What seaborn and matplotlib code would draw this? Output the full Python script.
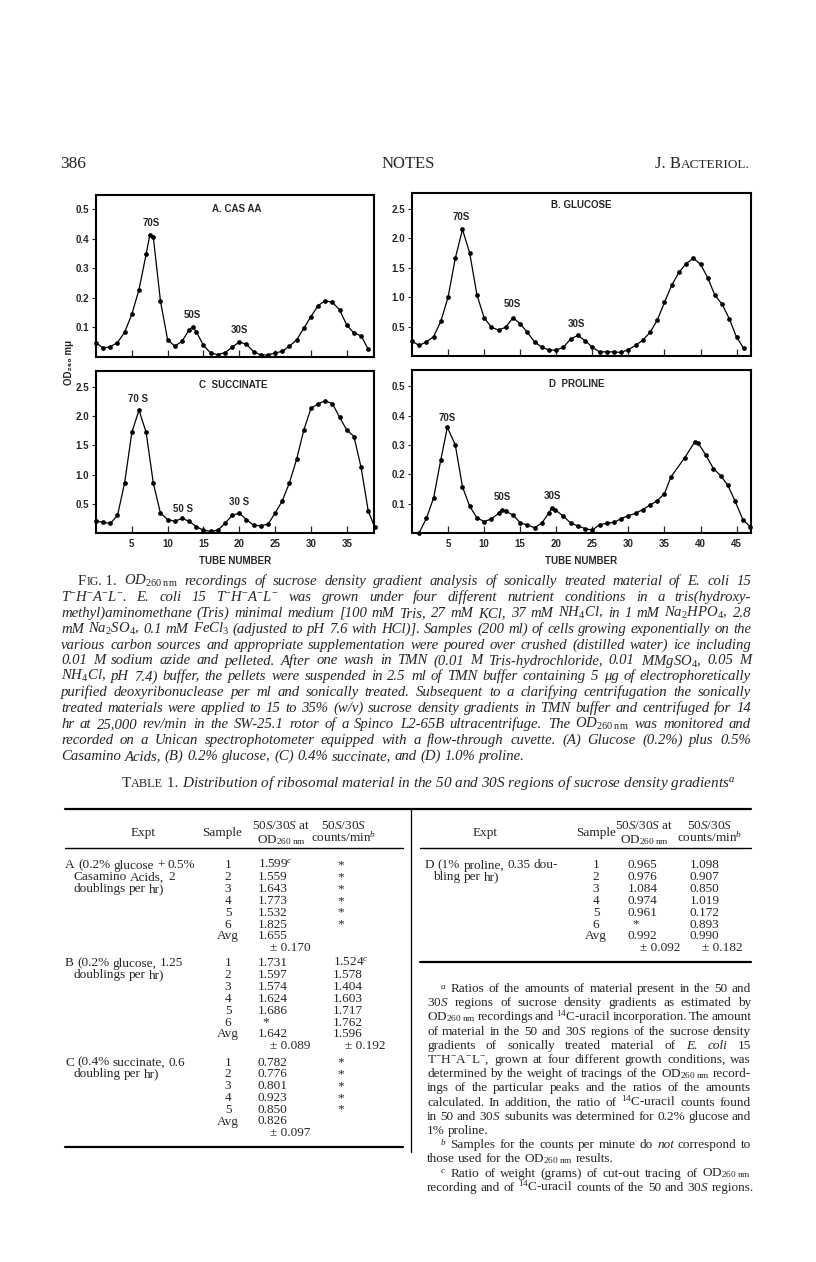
import numpy as np
import pandas as pd
import seaborn as sns
import matplotlib.pyplot as plt
from matplotlib.lines import Line2D

sns.set_style("white")
plt.rcParams['font.family'] = ['Liberation Serif', 'DejaVu Serif']
plt.rcParams['mathtext.fontset'] = 'custom'
plt.rcParams['mathtext.rm'] = 'Liberation Serif'
plt.rcParams['mathtext.it'] = 'Liberation Serif:italic'
plt.rcParams['mathtext.bf'] = 'Liberation Serif:bold'

# ---- gradient profiles (tube number, OD260) ----
tube_a = [0, 1, 2, 3, 4, 5, 6, 7, 7.5, 8, 9, 10, 11, 12, 13, 13.5, 14, 15, 16, 17, 18, 19, 20,
          21, 22, 23, 24, 25, 26, 27, 28, 29, 30, 31, 32, 33, 34, 35, 36, 37, 38]
od_a = [0.049, 0.030, 0.035, 0.049, 0.084, 0.145, 0.228, 0.349, 0.412, 0.405, 0.189, 0.058,
        0.037, 0.053, 0.092, 0.102, 0.086, 0.039, 0.014, 0.008, 0.015, 0.033, 0.051, 0.043,
        0.018, 0.007, 0.007, 0.014, 0.019, 0.037, 0.058, 0.097, 0.137, 0.174, 0.191, 0.185,
        0.160, 0.108, 0.081, 0.072, 0.026]

tube_b = list(range(0, 47))
od_b = [0.25, 0.18, 0.24, 0.33, 0.59, 1.00, 1.66, 2.15, 1.75, 1.04, 0.65, 0.49, 0.44, 0.49,
        0.65, 0.55, 0.40, 0.24, 0.15, 0.10, 0.10, 0.15, 0.29, 0.35, 0.26, 0.15, 0.07, 0.07,
        0.07, 0.06, 0.11, 0.18, 0.27, 0.40, 0.61, 0.91, 1.20, 1.42, 1.57, 1.66, 1.56, 1.33,
        1.03, 0.88, 0.63, 0.32, 0.13]

tube_c = list(range(0, 39)) + [38.9]
od_c = [0.21, 0.18, 0.165, 0.30, 0.86, 1.72, 2.10, 1.72, 0.85, 0.34, 0.23, 0.20, 0.25, 0.20,
        0.11, 0.045, 0.03, 0.045, 0.165, 0.30, 0.34, 0.23, 0.13, 0.125, 0.15, 0.34, 0.55,
        0.86, 1.26, 1.76, 2.13, 2.21, 2.26, 2.21, 1.98, 1.76, 1.65, 1.12, 0.375, 0.10]

tube_d = [1, 2, 3, 4, 4.9, 6, 7, 8, 9, 10, 11, 12, 12.5, 13, 14, 15, 16, 17, 18, 19, 19.4, 19.8,
          21, 22, 23, 24, 25, 26, 27, 28, 29, 30, 31, 32, 33, 34, 35, 35.9, 37.8, 39.2, 39.7,
          40.7, 41.8, 42.8, 43.8, 44.8, 45.9, 46.9]
od_d = [0.001, 0.05, 0.12, 0.25, 0.36, 0.30, 0.157, 0.091, 0.052, 0.039, 0.048, 0.067, 0.08,
        0.074, 0.061, 0.035, 0.027, 0.018, 0.034, 0.069, 0.086, 0.080, 0.057, 0.034, 0.024,
        0.015, 0.010, 0.028, 0.033, 0.036, 0.049, 0.059, 0.067, 0.080, 0.095, 0.110, 0.134,
        0.191, 0.256, 0.31, 0.305, 0.267, 0.219, 0.195, 0.162, 0.108, 0.044, 0.022]

# ---- table 1 ----
samples_a = ["1", "2", "3", "4", "5", "6", "Avg"]
od_ratio_a = ["1.599$^{c}$", "1.559", "1.643", "1.773", "1.532", "1.825", "1.655"]
cpm_ratio_a = ["*", "*", "*", "*", "*", "*", ""]
sd_a = ["± 0.170", ""]
samples_b = ["1", "2", "3", "4", "5", "6", "Avg"]
od_ratio_b = ["1.731", "1.597", "1.574", "1.624", "1.686", "*", "1.642"]
cpm_ratio_b = ["1.524$^{c}$", "1.578", "1.404", "1.603", "1.717", "1.762", "1.596"]
sd_b = ["± 0.089", "± 0.192"]
samples_c = ["1", "2", "3", "4", "5", "Avg"]
od_ratio_c = ["0.782", "0.776", "0.801", "0.923", "0.850", "0.826"]
cpm_ratio_c = ["*", "*", "*", "*", "*", ""]
sd_c = ["± 0.097", ""]
samples_d = ["1", "2", "3", "4", "5", "6", "Avg"]
od_ratio_d = ["0.965", "0.976", "1.084", "0.974", "0.961", "*", "0.992"]
cpm_ratio_d = ["1.098", "0.907", "0.850", "1.019", "0.172", "0.893", "0.990"]
sd_d = ["± 0.092", "± 0.182"]

W, H = 816, 1262
fig = plt.figure(figsize=(W / 100, H / 100), dpi=100)
renderer = fig.canvas.get_renderer()


def fx(x):
    return x / W


def fy(y):
    return 1 - y / H


def put(x, y, s, **kw):
    return fig.text(fx(x), fy(y), s, **kw)


def width(t):
    return t.get_window_extent(renderer).width


def rule(x0, x1, y, lw=1.2):
    fig.add_artist(Line2D([fx(x0), fx(x1)], [fy(y), fy(y)], transform=fig.transFigure,
                          color='k', lw=lw))


def runs(x, y, parts, align='left', **kw):
    items = []
    for p in parts:
        if isinstance(p, (int, float)):
            items.append((None, p))
        else:
            s, sz, st = p
            t = put(0, y, s, fontsize=sz, style=st, va='baseline', **kw)
            items.append((t, width(t)))
    total = sum(w for _, w in items)
    if align == 'right':
        x -= total
    elif align == 'center':
        x -= total / 2
    for t, w in items:
        if t is not None:
            t.set_x(fx(x))
        x += w
    return x


def text_line(x0, x1, y, text, size, style='italic', justify=True):
    words = text.split(' ')
    ts = []
    for w in words:
        st = style
        if w.startswith('~'):
            w = w[1:]
            st = 'italic' if style == 'normal' else 'normal'
        ts.append(put(0, y, w, fontsize=size, style=st, va='baseline'))
    ws = [width(t) for t in ts]
    gap = size * 100 / 72 * 0.25
    if justify and len(ts) > 1:
        gap = (x1 - x0 - sum(ws)) / (len(ts) - 1)
    x = x0
    for t, w in zip(ts, ws):
        t.set_x(fx(x))
        x += w + gap


SANS = ['Liberation Sans', 'DejaVu Sans']
PS = 7


def panel(box, xs, ys, xlim, ylim, yticks, ylabels, xticks, show_x, title, title_xy, peaks):
    l, t, r, b = box
    ax = fig.add_axes([fx(l), fy(b), (r - l) / W, (b - t) / H])
    df = pd.DataFrame({"tube": xs, "od": ys})
    sns.lineplot(data=df, x="tube", y="od", ax=ax, color='k', lw=0.9, marker='o',
                 markersize=3.4, markeredgewidth=0, sort=True, clip_on=False)
    ax.set_xlim(*xlim)
    ax.set_ylim(*ylim)
    ax.set_xlabel("")
    ax.set_ylabel("")
    ax.set_xticks(xticks)
    ax.set_yticks(yticks, ylabels, fontsize=PS, fontweight='bold', family=SANS)
    if show_x:
        ax.set_xticklabels([str(v) for v in xticks], fontsize=PS, fontweight='bold', family=SANS)
        ax.set_xlabel("TUBE NUMBER", fontsize=PS, fontweight='bold', family=SANS, labelpad=5)
    else:
        ax.set_xticklabels([])
    ax.tick_params(axis='x', direction='in', length=5, width=0.9, pad=4, bottom=True)
    ax.tick_params(axis='y', direction='out', length=3, width=0.8, pad=2, left=True)
    for sp in ax.spines.values():
        sp.set_linewidth(1.5)
        sp.set_color('k')
    ax.text(title_xy[0], title_xy[1], title, fontsize=PS, fontweight='bold', family=SANS,
            ha='center', va='center')
    for s, px, py in peaks:
        ax.text(px, py, s, fontsize=PS, fontweight='bold', family=SANS, ha='center', va='center')
    return ax


panel((96, 195, 374, 357), tube_a, od_a, (0, 38.8), (0, 0.549), [0.1, 0.2, 0.3, 0.4, 0.5],
      ["0.1", "0.2", "0.3", "0.4", "0.5"], [5, 10, 15, 20, 25, 30, 35], False,
      "A. CAS AA", (19.6, 0.503), [("70S", 7.7, 0.455), ("50S", 13.4, 0.142), ("30S", 20.0, 0.092)])
panel((412, 193, 751, 356), tube_b, od_b, (0, 47), (0, 2.77), [0.5, 1.0, 1.5, 2.0, 2.5],
      ["0.5", "1.0", "1.5", "2.0", "2.5"], [5, 10, 15, 20, 25, 30, 35, 40, 45], False,
      "B. GLUCOSE", (23.4, 2.56), [("70S", 6.8, 2.36), ("50S", 13.9, 0.88), ("30S", 22.8, 0.55)])
panel((96, 371, 374, 533), tube_c, od_c, (0, 38.8), (0, 2.77), [0.5, 1.0, 1.5, 2.0, 2.5],
      ["0.5", "1.0", "1.5", "2.0", "2.5"], [5, 10, 15, 20, 25, 30, 35], True,
      "C  SUCCINATE", (19.2, 2.53), [("70 S", 5.9, 2.29), ("50 S", 12.2, 0.41), ("30 S", 19.9, 0.53)])
panel((412, 370, 751, 533), tube_d, od_d, (0, 47), (0, 0.555), [0.1, 0.2, 0.3, 0.4, 0.5],
      ["0.1", "0.2", "0.3", "0.4", "0.5"], [5, 10, 15, 20, 25, 30, 35, 40, 45], True,
      "D  PROLINE", (22.9, 0.509), [("70S", 4.9, 0.393), ("50S", 12.5, 0.123), ("30S", 19.4, 0.125)])

put(69, 362, "OD₂₆₀ mμ", fontsize=PS, fontweight='bold', family=SANS, rotation=90,
    ha='center', va='center')

# ---- running head ----
put(60, 168, "386", fontsize=12.5, va='baseline')
put(408, 168, "NOTES", fontsize=12, va='baseline', ha='center')
runs(750, 168, [("J. B", 12, 'normal'), ("ACTERIOL.", 9.5, 'normal')], align='right')

# ---- figure legend ----
cap = [
    "OD$_{260\\;\\mathrm{nm}}$ recordings of sucrose density gradient analysis of sonically treated material of E. coli 15",
    "T$^{-}$H$^{-}$A$^{-}$L$^{-}$. E. coli 15 T$^{-}$H$^{-}$A$^{-}$L$^{-}$ was grown under four different nutrient conditions in a tris(hydroxy-",
    "methyl)aminomethane (Tris) minimal medium [100 mM Tris, 27 mM KCl, 37 mM NH$_{4}$Cl, in 1 mM Na$_{2}$HPO$_{4}$, 2.8",
    "mM Na$_{2}$SO$_{4}$, 0.1 mM FeCl$_{3}$ (adjusted to pH 7.6 with HCl)]. Samples (200 ml) of cells growing exponentially on the",
    "various carbon sources and appropriate supplementation were poured over crushed (distilled water) ice including",
    "0.01 M sodium azide and pelleted. After one wash in TMN (0.01 M Tris-hydrochloride, 0.01 MMgSO$_{4}$, 0.05 M",
    "NH$_{4}$Cl, pH 7.4) buffer, the pellets were suspended in 2.5 ml of TMN buffer containing 5 μg of electrophoretically",
    "purified deoxyribonuclease per ml and sonically treated. Subsequent to a clarifying centrifugation the sonically",
    "treated materials were applied to 15 to 35% (w/v) sucrose density gradients in TMN buffer and centrifuged for 14",
    "hr at 25,000 rev/min in the SW-25.1 rotor of a Spinco L2-65B ultracentrifuge. The OD$_{260\\;\\mathrm{nm}}$ was monitored and",
    "recorded on a Unican spectrophotometer equipped with a flow-through cuvette. (A) Glucose (0.2%) plus 0.5%",
    "Casamino Acids, (B) 0.2% glucose, (C) 0.4% succinate, and (D) 1.0% proline.",
]
cap_y0, cap_dy, cap_size = 585, 15.9, 10.6
x_after = runs(78, cap_y0, [("F", cap_size, 'normal'), ("IG", 8.5, 'normal'), (". 1. ", cap_size, 'normal')])
text_line(x_after + 3, 751, cap_y0, cap[0], cap_size)
for i, ln in enumerate(cap[1:], start=1):
    text_line(61, 751, cap_y0 + i * cap_dy, ln, cap_size, justify=(i < len(cap) - 1))

# ---- table title ----
runs(122, 787, [("T", 11, 'normal'), ("ABLE", 8.8, 'normal'), (" 1. ", 11, 'normal'),
                ("Distribution of ribosomal material in the 50 and 30$S$ regions of sucrose density gradients$^{a}$",
                 11, 'italic')])

# ---- table frame ----
rule(65, 751, 809, 1.6)
rule(65, 403, 848, 1.0)
rule(420, 751, 848, 1.0)
fig.add_artist(Line2D([fx(411), fx(411)], [fy(809), fy(1152)], transform=fig.transFigure,
                      color='k', lw=0.9))
rule(420, 751, 962, 1.6)
rule(65, 403, 1147, 1.6)

TS = 9.5
hdr = dict(fontsize=TS, ha='center', va='baseline')
for ex, sx, ox, cx in [(143, 222, 281, 344), (485, 596, 644, 710)]:
    put(ex, 836, "Expt", **hdr)
    put(sx, 836, "Sample", **hdr)
    put(ox, 829, "50$S$/30$S$ at", **hdr)
    put(ox, 843, "OD$_{260\\;\\mathrm{nm}}$", **hdr)
    put(cx, 829, "50$S$/30$S$", **hdr)
    put(cx, 842, "counts/min$^{b}$", **hdr)

ROW = 11.8


def block(y0, expt_lines, samples, od, cpm, sd, cols):
    sx, ox, cx = cols
    for k, (txt, x0, x1) in enumerate(expt_lines):
        text_line(x0, x1, y0 + k * ROW + 3.5, txt, TS, style='normal', justify=x1 is not None)
    for k in range(len(samples)):
        y = y0 + k * ROW + 3.5
        put(sx, y, samples[k], fontsize=TS, ha='center', va='baseline')
        if od[k] == "*":
            put(ox + 4, y, "*", fontsize=TS, ha='left', va='baseline')
        else:
            put(ox, y, od[k], fontsize=TS, ha='left', va='baseline')
        if cpm[k] == "*":
            put(cx + 4, y, "*", fontsize=TS, ha='left', va='baseline')
        elif cpm[k]:
            put(cx, y, cpm[k], fontsize=TS, ha='left', va='baseline')
    y = y0 + len(samples) * ROW + 3.5
    if sd[0]:
        put(ox + 12, y, sd[0], fontsize=TS, ha='left', va='baseline')
    if sd[1]:
        put(cx + 12, y, sd[1], fontsize=TS, ha='left', va='baseline')


left_cols = (228, 258, 333)
block(865, [("A (0.2% glucose + 0.5%", 65, None), ("Casamino Acids, 2", 73, 175),
            ("doublings per hr)", 73, None)], samples_a, od_ratio_a, cpm_ratio_a, sd_a, left_cols)
block(963, [("B (0.2% glucose, 1.25", 65, None), ("doublings per hr)", 73, None)],
      samples_b, od_ratio_b, cpm_ratio_b, sd_b, left_cols)
block(1062, [("C (0.4% succinate, 0.6", 65, None), ("doubling per hr)", 73, None)],
      samples_c, od_ratio_c, cpm_ratio_c, sd_c, left_cols)
block(865, [("D (1% proline, 0.35 dou-", 425, None), ("bling per hr)", 433, None)],
      samples_d, od_ratio_d, cpm_ratio_d, sd_d, (596, 628, 690))

# ---- table footnotes ----
notes = [
    ("$^{a}$ Ratios of the amounts of material present in the 50 and", 440, True),
    ("30$S$ regions of sucrose density gradients as estimated by", 427, True),
    ("OD$_{260\\;\\mathrm{nm}}$ recordings and $^{14}$C-uracil incorporation. The amount", 427, True),
    ("of material in the 50 and 30$S$ regions of the sucrose density", 427, True),
    ("gradients of sonically treated material of ~E. ~coli 15", 427, True),
    ("T$^{-}$H$^{-}$A$^{-}$L$^{-}$, grown at four different growth conditions, was", 427, True),
    ("determined by the weight of tracings of the OD$_{260\\;\\mathrm{nm}}$ record-", 427, True),
    ("ings of the particular peaks and the ratios of the amounts", 427, True),
    ("calculated. In addition, the ratio of $^{14}$C-uracil counts found", 427, True),
    ("in 50 and 30$S$ subunits was determined for 0.2% glucose and", 427, True),
    ("1% proline.", 427, False),
    ("$^{b}$ Samples for the counts per minute do ~not correspond to", 440, True),
    ("those used for the OD$_{260\\;\\mathrm{nm}}$ results.", 427, False),
    ("$^{c}$ Ratio of weight (grams) of cut-out tracing of OD$_{260\\;\\mathrm{nm}}$", 440, True),
    ("recording and of $^{14}$C-uracil counts of the 50 and 30$S$ regions.", 427, False),
]
for k, (txt, x0, just) in enumerate(notes):
    text_line(x0, 751, 992 + k * 14.2, txt, TS, style='normal', justify=just)

fig.savefig("out.png", dpi=100, facecolor='white')
